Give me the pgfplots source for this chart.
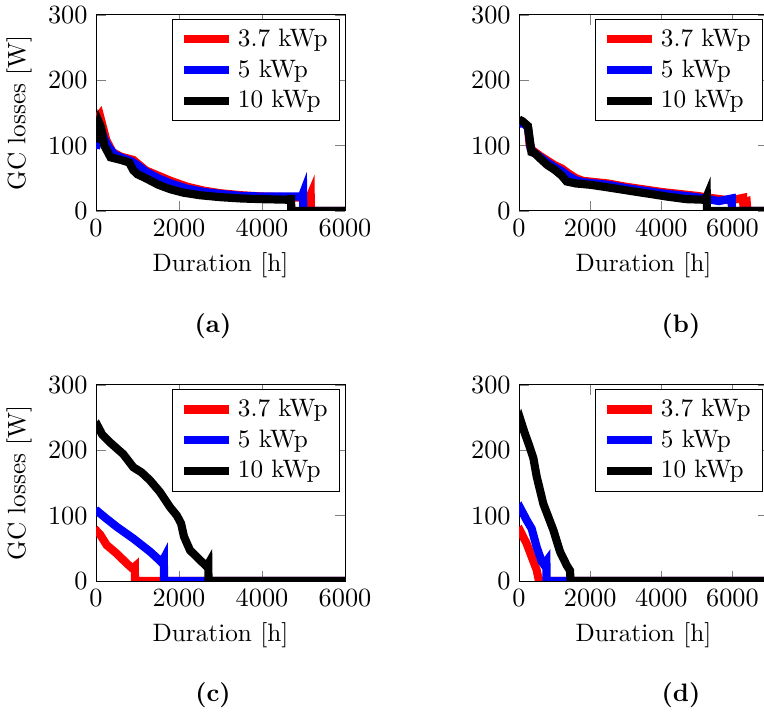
\documentclass[border=0pt]{standalone}
\usepackage{pgfplots}
\pgfplotsset{compat=1.18}
\pgfplotsset{
  gcaxis/.style={
    scale only axis, width=103.75pt, height=81.7pt,
    anchor=south west,
    font=\fontsize{10.5}{12.6}\selectfont,
    ymin=0, ymax=300, ytick={0,100,200,300},
    xmin=0, xtick={0,2000,4000,6000},
    scaled x ticks=false,
    /pgf/number format/1000 sep={},
    xlabel={Duration [h]},
    every axis plot/.append style={line width=3.4pt, no markers},
    legend cell align=left,
    legend image code/.code={\draw[#1] (0cm,0cm) -- (0.66cm,0cm);},
  },
}
\begin{document}
\begin{tikzpicture}
% (a)
\begin{axis}[gcaxis, at={(40pt,209.2pt)}, xmax=6000, ylabel={GC losses [W]}]
\addplot[red] coordinates {(0,140)(90,147)(160,130)(250,108)(400,90)(600,83)(900,78)(1050,70)(1200,62)(1500,54)(1800,46)(2200,37)(2600,31)(3000,27)(3500,24)(4000,22)(5140,20)(5173,25)(5178,0)(6000,0)};
\addlegendentry{3.7 kWp}
\addplot[blue] coordinates {(0,95)(60,120)(120,125)(200,110)(300,98)(450,86)(600,82)(850,76)(1000,70)(1200,60)(1500,50)(1800,42)(2200,34)(2600,29)(3000,26)(3500,23)(4000,22)(4960,22)(4990,27)(4995,0)(6000,0)};
\addlegendentry{5 kWp}
\addplot[black] coordinates {(0,105)(40,120)(80,134)(120,128)(200,100)(350,82)(600,78)(800,74)(900,62)(1000,56)(1200,50)(1500,40)(1800,33)(2100,28)(2500,24)(3000,21)(3500,19)(4000,18)(4690,17)(4700,24)(4705,0)(6000,0)};
\addlegendentry{10 kWp}
\end{axis}
% (b)
\begin{axis}[gcaxis, at={(216.25pt,209.2pt)}, xmax=7000]
\addplot[red] coordinates {(0,135)(100,136)(250,128)(300,100)(340,95)(400,92)(600,84)(800,77)(1000,70)(1200,65)(1400,57)(1600,50)(1800,46)(2500,42)(3000,37)(3500,33)(4000,29)(4500,26)(5000,23)(5500,19)(5940,16)(6300,20)(6305,12)(6400,14)(6420,0)(7000,0)};
\addlegendentry{3.7 kWp}
\addplot[blue] coordinates {(0,133)(100,135)(250,128)(330,95)(400,90)(600,82)(800,74)(1000,67)(1200,61)(1400,53)(1600,47)(1800,44)(2500,40)(3000,35)(3500,31)(4000,27)(4500,24)(5000,21)(5300,18)(5620,15)(5980,19)(5985,0)(7000,0)};
\addlegendentry{5 kWp}
\addplot[black] coordinates {(0,140)(100,137)(250,130)(300,110)(350,90)(450,88)(600,80)(800,70)(1000,63)(1200,54)(1340,45)(1600,42)(2000,40)(2500,36)(3200,30)(3800,25)(4150,22)(4700,18)(5240,17)(5278,22)(5283,0)(7000,0)};
\addlegendentry{10 kWp}
\end{axis}
% (c)
\begin{axis}[gcaxis, at={(40pt,55pt)}, xmax=6000, ylabel={GC losses [W]}]
\addplot[red] coordinates {(0,72)(40,75)(100,71)(257,55)(498,42)(739,27)(881,19)(935,22)(940,0)(6000,0)};
\addlegendentry{3.7 kWp}
\addplot[blue] coordinates {(0,104)(50,106)(200,98)(498,83)(899,65)(1301,45)(1542,31)(1586,28)(1635,34)(1640,0)(6000,0)};
\addlegendentry{5 kWp}
\addplot[black] coordinates {(0,232)(50,236)(150,224)(338,212)(658,194)(899,174)(1100,166)(1301,154)(1542,136)(1783,113)(1950,100)(2050,88)(2120,68)(2265,47)(2506,32)(2670,22)(2706,26)(2711,0)(6000,0)};
\addlegendentry{10 kWp}
\end{axis}
% (d)
\begin{axis}[gcaxis, at={(216.25pt,55pt)}, xmax=7000]
\addplot[red] coordinates {(0,74)(40,76)(216,57)(356,37)(496,17)(530,8)(560,0)(7000,0)};
\addlegendentry{3.7 kWp}
\addplot[blue] coordinates {(0,106)(50,110)(216,93)(356,80)(496,52)(637,30)(702,25)(770,30)(775,0)(7000,0)};
\addlegendentry{5 kWp}
\addplot[black] coordinates {(0,238)(50,245)(150,228)(300,205)(403,188)(496,160)(684,118)(965,78)(1152,45)(1340,24)(1433,16)(1450,0)(7000,0)};
\addlegendentry{10 kWp}
\end{axis}
\node[font=\fontsize{10.5}{12.6}\selectfont\bfseries] at (88.75pt,161.25pt) {(a)};
\node[font=\fontsize{10.5}{12.6}\selectfont\bfseries] at (283.75pt,161.25pt) {(b)};
\node[font=\fontsize{10.5}{12.6}\selectfont\bfseries] at (88.75pt,7.5pt) {(c)};
\node[font=\fontsize{10.5}{12.6}\selectfont\bfseries] at (283.75pt,7.5pt) {(d)};
\pgfresetboundingbox
\path[use as bounding box] (0,0) rectangle (318.33pt,297.08pt);
\end{tikzpicture}
\end{document}
